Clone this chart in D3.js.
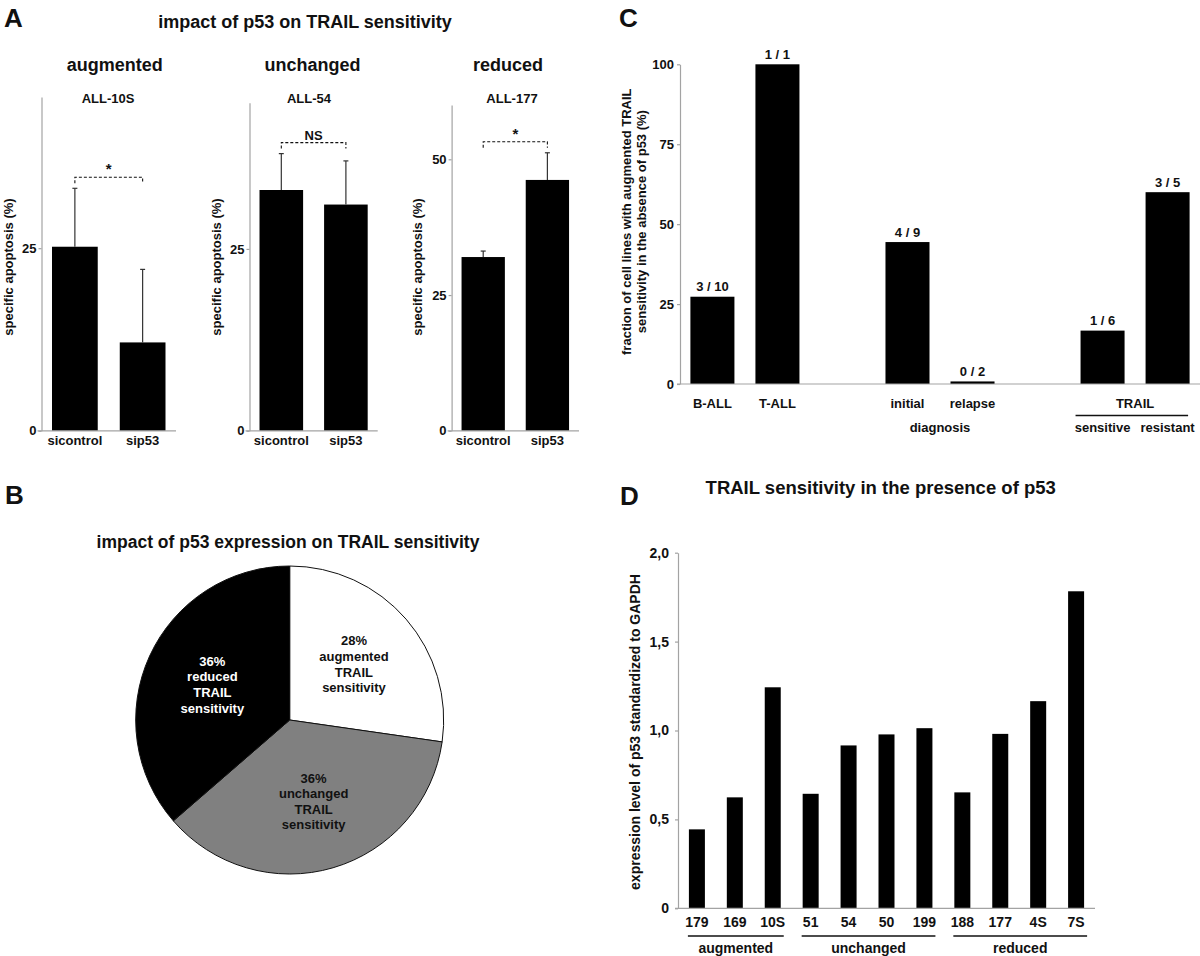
<!DOCTYPE html>
<html><head><meta charset="utf-8">
<script src="https://cdn.jsdelivr.net/npm/d3@7"></script>
<style>
body{margin:0;background:#fff}
svg{display:block;background:#fff}
text{font-family:"Liberation Sans",Arial,Helvetica,sans-serif;font-weight:bold;fill:#111}
</style></head><body>
<svg id="fig" width="1200" height="956"></svg>
<script>
// ---------------- Panel A data ----------------
const aGroups = ["augmented", "unchanged", "reduced"];
const aCellLines = ["ALL-10S", "ALL-54", "ALL-177"];
const aConditions = ["sicontrol", "sip53"];
const aMeans = [[25.2, 12.1], [33.1, 31.1], [32.0, 46.2]];
const aErrors = [[8.0, 10.0], [5.0, 6.0], [1.1, 5.0]];
const aSignif = ["*", "NS", "*"];
const aTicks = [[0, 25], [0, 25], [0, 25, 50]];
const aYMax = [45.7, 45.1, 60];

// ---------------- Panel B data ----------------
const bCategories = ["augmented", "unchanged", "reduced"];
const bCounts = [3, 4, 4];
const bPercentLabels = ["28%", "36%", "36%"];

// ---------------- Panel C data ----------------
const cCategories = ["B-ALL", "T-ALL", "initial", "relapse", "sensitive", "resistant"];
const cValues = [27.3, 100, 44.4, 0.8, 16.7, 60];
const cFractions = ["3 / 10", "1 / 1", "4 / 9", "0 / 2", "1 / 6", "3 / 5"];
const cTicks = [0, 25, 50, 75, 100];

// ---------------- Panel D data ----------------
const dCellLines = ["179", "169", "10S", "51", "54", "50", "199", "188", "177", "4S", "7S"];
const dValues = [0.444, 0.624, 1.243, 0.644, 0.916, 0.978, 1.013, 0.652, 0.981, 1.165, 1.783];
const dGroupNames = ["augmented", "unchanged", "reduced"];
const dGroupSizes = [3, 4, 4];
const dTicks = [0, 0.5, 1, 1.5, 2];
const dTickLabels = ["0", "0,5", "1,0", "1,5", "2,0"];

// ---------------- styles / helpers ----------------
const AXIS = "#a3a3a3";
const svg = d3.select("#fig");
function txt(g, x, y, s, size, anchor, fill) {
  return g.append("text").attr("x", x).attr("y", y).attr("font-size", size)
    .attr("text-anchor", anchor || "middle").style("fill", fill || "#111").text(s);
}
function vtxt(g, x, y, s, size) {
  return g.append("text").attr("transform", `translate(${x},${y}) rotate(-90)`)
    .attr("dy", "0.35em").attr("font-size", size).attr("text-anchor", "middle").text(s);
}
function styleAxis(ax, size) {
  ax.select(".domain").attr("stroke", AXIS).attr("stroke-width", 1.2);
  ax.selectAll(".tick line").attr("stroke", AXIS).attr("stroke-width", 1.2);
  ax.selectAll(".tick text").attr("font-size", size).attr("font-family", null).style("fill", "#111");
}

// panel letters
txt(svg, 4, 27, "A", 26, "start");
txt(svg, 5, 504, "B", 26, "start");
txt(svg, 619, 27, "C", 26, "start");
txt(svg, 620, 505, "D", 26, "start");

// ================= Panel A =================
const gA = svg.append("g");
txt(gA, 305, 28, "impact of p53 on TRAIL sensitivity", 18);
const aLayout = [
  { axisX: 41.5, endX: 176, yTop: 97, titleX: 114.8, cellX: 108, ylabX: 8.4 },
  { axisX: 249.5, endX: 377.7, yTop: 102.7, titleX: 312.5, cellX: 309, ylabX: 216.2 },
  { axisX: 451.6, endX: 579, yTop: 105, titleX: 508, cellX: 512, ylabX: 417.1 }
];
const aY0 = 430.8;
aGroups.forEach((grp, i) => {
  const L = aLayout[i];
  const g = gA.append("g");
  txt(g, L.titleX, 71, grp, 18);
  txt(g, L.cellX, 103, aCellLines[i], 13);
  const y = d3.scaleLinear().domain([0, aYMax[i]]).range([aY0, L.yTop]);
  const x = d3.scaleBand().domain(aConditions).range([L.axisX, L.endX])
    .paddingInner(0.325).paddingOuter(0.155);
  // bars
  g.selectAll("rect.bar").data(aConditions).enter().append("rect")
    .attr("x", d => x(d)).attr("width", x.bandwidth())
    .attr("y", (d, j) => y(aMeans[i][j])).attr("height", (d, j) => aY0 - y(aMeans[i][j]))
    .attr("fill", "#000");
  // error bars
  aConditions.forEach((c, j) => {
    const cx = x(c) + x.bandwidth() / 2;
    const top = y(aMeans[i][j] + aErrors[i][j]);
    g.append("line").attr("x1", cx).attr("x2", cx).attr("y1", y(aMeans[i][j])).attr("y2", top)
      .attr("stroke", "#333").attr("stroke-width", 1.2);
    g.append("line").attr("x1", cx - 2.5).attr("x2", cx + 2.5).attr("y1", top).attr("y2", top)
      .attr("stroke", "#333").attr("stroke-width", 1.2);
  });
  // significance bracket
  const maxTop = d3.max(aConditions, (c, j) => aMeans[i][j] + aErrors[i][j]);
  const by = y(maxTop) - 11;
  const x1 = x(aConditions[0]) + x.bandwidth() / 2, x2 = x(aConditions[1]) + x.bandwidth() / 2;
  g.append("path").attr("d", `M${x1},${by + 6}V${by}H${x2}V${by + 6}`)
    .attr("fill", "none").attr("stroke", "#111").attr("stroke-width", 1.1).attr("stroke-dasharray", "3,2");
  txt(g, (x1 + x2) / 2, by - 3, aSignif[i], aSignif[i] === "*" ? 15 : 13);
  // axes
  const ay = g.append("g").attr("transform", `translate(${L.axisX},0)`)
    .call(d3.axisLeft(y).tickValues(aTicks[i]).tickSize(3).tickPadding(2).tickSizeOuter(0));
  styleAxis(ay, 13);
  g.append("line").attr("x1", L.axisX - 4).attr("x2", L.endX).attr("y1", aY0).attr("y2", aY0)
    .attr("stroke", AXIS).attr("stroke-width", 1.2);
  aConditions.forEach(c => txt(g, x(c) + x.bandwidth() / 2, 445, c, 13));
  vtxt(g, L.ylabX, 267, "specific apoptosis (%)", 13);
});

// ================= Panel B =================
const gB = svg.append("g");
txt(gB, 288, 548, "impact of p53 expression on TRAIL sensitivity", 17.5);
const bColors = ["#ffffff", "#808080", "#000000"];
const bText = ["#111", "#111", "#ffffff"];
const pie = d3.pie().sort(null).value(d => d)(bCounts);
const R = 154;
const arc = d3.arc().innerRadius(0).outerRadius(R);
const lblArc = d3.arc().innerRadius(85).outerRadius(85);
const gPie = gB.append("g").attr("transform", "translate(289.7,720)");
gPie.selectAll("path").data(pie).enter().append("path")
  .attr("d", arc).attr("fill", (d, i) => bColors[i]).attr("stroke", "#111").attr("stroke-width", 1);
pie.forEach((p, i) => {
  const [cx, cy] = lblArc.centroid(p);
  const lines = [bPercentLabels[i], bCategories[i], "TRAIL", "sensitivity"];
  lines.forEach((s, k) => txt(gPie, cx, cy + (k - 1.5) * 15.6 + 4.5, s, 13, "middle", bText[i]));
});

// ================= Panel C =================
const gC = svg.append("g");
const cDomain = [cCategories[0], cCategories[1], "_gap1", cCategories[2], cCategories[3], "_gap2", cCategories[4], cCategories[5]];
const cx = d3.scaleBand().domain(cDomain).range([680, 1200]).paddingInner(0.323).paddingOuter(0.16);
const cy = d3.scaleLinear().domain([0, 100]).range([384, 64.3]);
gC.selectAll("rect").data(cCategories).enter().append("rect")
  .attr("x", d => cx(d)).attr("width", cx.bandwidth())
  .attr("y", (d, i) => cy(cValues[i])).attr("height", (d, i) => cy(0) - cy(cValues[i]))
  .attr("fill", "#000");
cCategories.forEach((c, i) => txt(gC, cx(c) + cx.bandwidth() / 2, cy(cValues[i]) - 5.5, cFractions[i], 13));
const cay = gC.append("g").attr("transform", "translate(680,0)")
  .call(d3.axisLeft(cy).tickValues(cTicks).tickSize(3).tickPadding(3).tickSizeOuter(0));
styleAxis(cay, 13);
gC.append("line").attr("x1", 677).attr("x2", 1200).attr("y1", cy(0)).attr("y2", cy(0))
  .attr("stroke", AXIS).attr("stroke-width", 1.2);
const cMid = c => cx(c) + cx.bandwidth() / 2;
// row 1 labels
[cCategories[0], cCategories[1], cCategories[2], cCategories[3]].forEach(c => txt(gC, cMid(c), 408, c, 13));
txt(gC, (cMid(cCategories[2]) + cMid(cCategories[3])) / 2, 432, "diagnosis", 13);
txt(gC, (cMid(cCategories[4]) + cMid(cCategories[5])) / 2, 408, "TRAIL", 13);
gC.append("line").attr("x1", cx(cCategories[4]) - 5).attr("x2", cx(cCategories[5]) + cx.bandwidth() - 1.5)
  .attr("y1", 415.5).attr("y2", 415.5).attr("stroke", "#111").attr("stroke-width", 1.5);
[cCategories[4], cCategories[5]].forEach(c => txt(gC, cMid(c), 432, c, 13));
vtxt(gC, 626, 221.7, "fraction of cell lines with augmented TRAIL", 13);
vtxt(gC, 641.4, 221.7, "sensitivity in the absence of p53 (%)", 13);

// ================= Panel D =================
const gD = svg.append("g");
txt(gD, 880.7, 494, "TRAIL sensitivity in the presence of p53", 18.5);
const dx = d3.scaleBand().domain(dCellLines).range([678, 1095]).paddingInner(0.578).paddingOuter(0.2875);
const dy = d3.scaleLinear().domain([0, 2]).range([908.3, 552.7]);
gD.selectAll("rect").data(dCellLines).enter().append("rect")
  .attr("x", d => dx(d)).attr("width", dx.bandwidth())
  .attr("y", (d, i) => dy(dValues[i])).attr("height", (d, i) => dy(0) - dy(dValues[i]))
  .attr("fill", "#000");
const day = gD.append("g").attr("transform", "translate(678,0)")
  .call(d3.axisLeft(dy).tickValues(dTicks).tickFormat((d, i) => dTickLabels[i]).tickSize(3).tickPadding(6).tickSizeOuter(0));
styleAxis(day, 14);
gD.append("line").attr("x1", 675).attr("x2", 1095).attr("y1", dy(0)).attr("y2", dy(0))
  .attr("stroke", AXIS).attr("stroke-width", 1.2);
dCellLines.forEach(c => txt(gD, dx(c) + dx.bandwidth() / 2, 926.5, c, 14));
let start = 0;
dGroupNames.forEach((name, gi) => {
  const first = dCellLines[start], last = dCellLines[start + dGroupSizes[gi] - 1];
  const xa = dx(first) - 1, xb = dx(last) + dx.bandwidth() + 3;
  gD.append("line").attr("x1", xa).attr("x2", xb).attr("y1", 936).attr("y2", 936)
    .attr("stroke", "#111").attr("stroke-width", 1.5);
  txt(gD, (xa + xb) / 2, 953, name, 14);
  start += dGroupSizes[gi];
});
vtxt(gD, 635, 732, "expression level of p53 standardized to GAPDH", 14);
</script>
</body></html>
